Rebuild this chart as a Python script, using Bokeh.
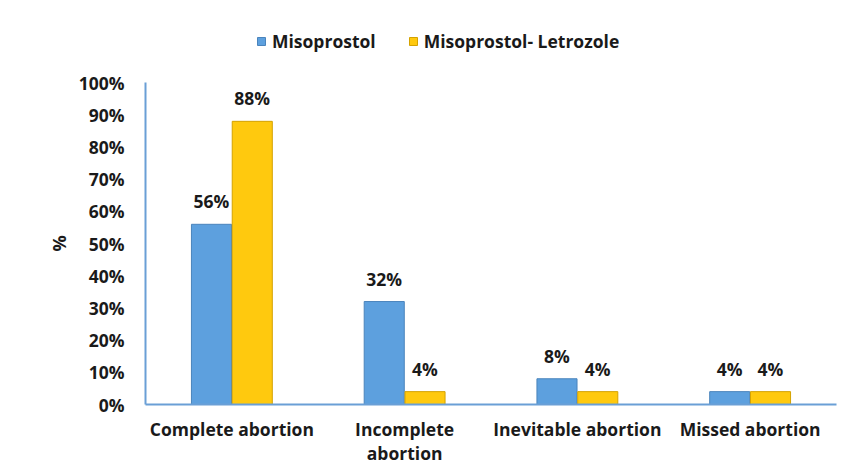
from bokeh.plotting import figure
from bokeh.models import ColumnDataSource, FactorRange, Range1d, Legend, LegendItem, LabelSet, CustomJSTickFormatter, FixedTicker, Title
from bokeh.core.properties import value
from bokeh.transform import dodge
from bokeh.embed import file_html
from bokeh.resources import INLINE

categories = ["Complete abortion", "Incomplete\nabortion", "Inevitable abortion", "Missed abortion"]
misoprostol = [56, 32, 8, 4]
miso_letrozole = [88, 4, 4, 4]
series_names = ["Misoprostol", "Misoprostol- Letrozole"]
y_ticks = [0, 10, 20, 30, 40, 50, 60, 70, 80, 90, 100]
y_title = "%"

FONT = "Open Sans"
FS = "17.5px"
BLUE = "#5DA0DE"
YELLOW = "#FFC90E"
TXT = "#1a1a1a"

src = ColumnDataSource(dict(
    cat=categories,
    a=misoprostol,
    b=miso_letrozole,
    a_lab=[f"{v}%" for v in misoprostol],
    b_lab=[f"{v}%" for v in miso_letrozole],
))

p = figure(width=842, height=467, x_range=FactorRange(*categories), y_range=Range1d(0, 124),
           output_backend="svg", toolbar_location=None,
           min_border_left=145, min_border_right=6, min_border_top=5, min_border_bottom=63)
p.outline_line_color = None
p.xgrid.grid_line_color = None
p.ygrid.grid_line_color = None

r1 = p.vbar(x=dodge("cat", -0.118, range=p.x_range), top="a", width=0.232, source=src,
            fill_color=BLUE, line_color="#4A84BC", line_width=1)
r2 = p.vbar(x=dodge("cat", 0.118, range=p.x_range), top="b", width=0.232, source=src,
            fill_color=YELLOW, line_color="#D4A200", line_width=1)

for col, lab, off in (("a", "a_lab", -0.118), ("b", "b_lab", 0.118)):
    ls = LabelSet(x=dodge("cat", off, range=p.x_range), y=col, text=lab, source=src,
                  y_offset=11, text_align="center", text_baseline="bottom",
                  text_font=value(FONT), text_font_style="bold", text_font_size=FS, text_color=TXT)
    p.add_layout(ls)

AXIS_COLOR = "#6A9FD6"
p.yaxis.bounds = (0, 100)
p.yaxis.ticker = FixedTicker(ticks=y_ticks)
p.yaxis.formatter = CustomJSTickFormatter(code="return tick + '%';")
p.yaxis.axis_line_color = AXIS_COLOR
p.yaxis.axis_line_width = 2
p.yaxis.major_tick_line_color = None
p.yaxis.minor_tick_line_color = None
p.yaxis.major_label_standoff = 15
p.yaxis.major_label_text_font = FONT
p.yaxis.major_label_text_font_style = "bold"
p.yaxis.major_label_text_font_size = FS
p.yaxis.major_label_text_color = TXT

p.add_layout(Title(text=y_title, align="left", offset=153, text_font=FONT, text_font_style="bold",
                   text_font_size="18px", text_color=TXT, standoff=10), "left")

p.xaxis.axis_line_color = AXIS_COLOR
p.xaxis.axis_line_width = 2
p.xaxis.major_tick_line_color = None
p.xaxis.minor_tick_line_color = None
p.xaxis.major_label_standoff = 6
p.xaxis.major_label_text_font = FONT
p.xaxis.major_label_text_font_style = "bold"
p.xaxis.major_label_text_font_size = FS
p.xaxis.major_label_text_line_height = 1.0
p.xaxis.major_label_text_color = TXT

legend = Legend(items=[LegendItem(label=series_names[0], renderers=[r1]),
                       LegendItem(label=series_names[1], renderers=[r2])],
                orientation="horizontal", location=(111, 351),
                label_text_font=FONT, label_text_font_style="bold", label_text_font_size=FS,
                label_text_color=TXT, glyph_width=10, glyph_height=10, label_standoff=6,
                spacing=32, padding=0, margin=0, border_line_color=None, background_fill_alpha=0)
p.add_layout(legend, "center")

open("out.html", "w").write(file_html(p, INLINE))
